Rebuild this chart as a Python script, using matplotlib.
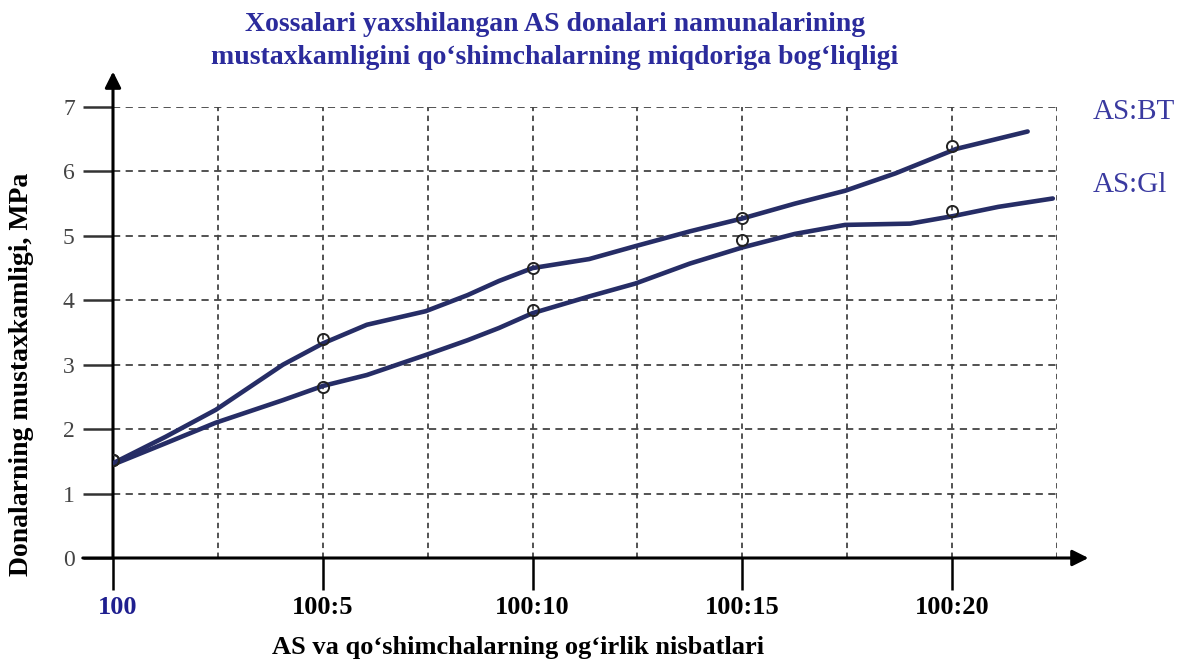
import matplotlib
matplotlib.use("Agg")
import matplotlib.pyplot as plt
import matplotlib.transforms as mtransforms
from matplotlib.ticker import MultipleLocator, FixedLocator

# Weight ratio positions (share of additive per 100 parts AS) and their labels
ratio_pos = [0, 5, 10, 15, 20]
ratio_labels = ["100", "100:5", "100:10", "100:15", "100:20"]

# Measured strength, MPa
bt_strength = [1.52, 3.4, 4.5, 5.28, 6.4]
gl_strength = [1.52, 2.65, 3.85, 4.94, 5.38]

# Hand-drawn trend curves traced along each series
bt_curve_x = [0, 1.25, 2.45, 4.05, 5.0, 6.05, 7.45, 8.45, 9.2, 10.0, 11.35, 12.45,
              13.75, 15.0, 16.25, 17.45, 18.65, 20.1, 21.8]
bt_curve_y = [1.47, 1.88, 2.3, 3.0, 3.33, 3.62, 3.83, 4.08, 4.3, 4.5, 4.64, 4.84,
              5.07, 5.27, 5.5, 5.7, 5.97, 6.35, 6.62]
gl_curve_x = [0, 1.25, 2.45, 4.05, 5.0, 6.05, 7.45, 8.45, 9.2, 10.0, 11.35, 12.45,
              13.75, 15.0, 16.25, 17.45, 19.0, 20.05, 21.1, 22.4]
gl_curve_y = [1.45, 1.78, 2.1, 2.45, 2.67, 2.84, 3.15, 3.38, 3.57, 3.8, 4.06, 4.26,
              4.57, 4.82, 5.03, 5.17, 5.19, 5.31, 5.45, 5.58]

series_names = ["AS:BT", "AS:Gl"]

line_color = "#262d66"
title_color = "#2b2b9c"
serif = ["Liberation Serif", "DejaVu Serif"]

fig = plt.figure(figsize=(11.8, 6.61), dpi=100)
ax = fig.add_axes([113 / 1180, 103 / 661, 944 / 1180, 451 / 661])
ax.set_xlim(0, 22.5)
ax.set_ylim(0, 7)
for s in ax.spines.values():
    s.set_visible(False)

# Dashed grid: every 2.5 along x, every unit along y
ax.xaxis.set_major_locator(FixedLocator(ratio_pos))
ax.xaxis.set_minor_locator(FixedLocator([2.5, 7.5, 12.5, 17.5, 22.5]))
ax.yaxis.set_major_locator(MultipleLocator(1))
ax.grid(which="major", axis="y", color="#444444", linestyle=(0, (4, 3)), linewidth=1.3)
ax.grid(which="both", axis="x", color="#444444", linestyle=(0, (3, 2.5)), linewidth=1.3)

# The pure-AS label sits a little lower and is drawn in blue
ax.set_xticks(ratio_pos)
ax.set_xticklabels([""] + ratio_labels[1:], fontfamily=serif, fontweight="bold", fontsize=19)
shift = ax.get_xaxis_transform() + mtransforms.ScaledTranslation(5 / 100, -38 / 100,
                                                                  fig.dpi_scale_trans)
ax.text(ratio_pos[0], 0, ratio_labels[0], transform=shift, fontfamily=serif,
        fontweight="bold", fontsize=19, color="#1f1f8f", ha="center", va="top")
ax.tick_params(axis="x", which="major", length=23, width=1.8, color="black", pad=4)
ax.tick_params(axis="x", which="minor", length=0)
ax.tick_params(axis="y", length=21.5, width=1.8, color="#333333", pad=6,
               labelsize=17, labelcolor="#444444")
for lbl in ax.get_yticklabels():
    lbl.set_fontfamily(serif)

# Axes drawn as arrows
arrow = dict(arrowstyle="-|>", lw=2.2, color="black", mutation_scale=24, shrinkA=0, shrinkB=0)
ax.annotate("", xy=(23.25, 0), xytext=(-0.72, 0), arrowprops=arrow, annotation_clip=False)
ax.annotate("", xy=(0, 7.55), xytext=(0, 0), arrowprops=arrow, annotation_clip=False)

# Curves and measured points
ax.plot(bt_curve_x, bt_curve_y, color=line_color, lw=3.3, solid_capstyle="round",
        solid_joinstyle="round", zorder=3)
ax.plot(gl_curve_x, gl_curve_y, color=line_color, lw=3.3, solid_capstyle="round",
        solid_joinstyle="round", zorder=3)
ax.plot(ratio_pos, bt_strength, "o", ms=8, mfc="none", mec="#222222", mew=1.4, zorder=4)
ax.plot(ratio_pos, gl_strength, "o", ms=8, mfc="none", mec="#222222", mew=1.4, zorder=4)

fig.text(1093 / 1180, 1 - 112 / 661, series_names[0], fontfamily=serif, fontsize=21,
         color="#3a3aa0", ha="left", va="center")
fig.text(1093 / 1180, 1 - 185 / 661, series_names[1], fontfamily=serif, fontsize=21,
         color="#3a3aa0", ha="left", va="center")

fig.text(555 / 1180, 1 - 41 / 661,
         "Xossalari yaxshilangan AS donalari namunalarining\n"
         "mustaxkamligini qo\u2018shimchalarning miqdoriga bog\u2018liqligi",
         fontfamily=serif, fontweight="bold", fontsize=20, color=title_color,
         ha="center", va="center", linespacing=1.45)
fig.text(22 / 1180, 1 - 374 / 661, "Donalarning mustaxkamligi, MPa", rotation=90,
         fontfamily=serif, fontweight="bold", fontsize=20, ha="center", va="center")
fig.text(518 / 1180, 1 - 654 / 661, "AS va qo\u2018shimchalarning og\u2018irlik nisbatlari",
         fontfamily=serif, fontweight="bold", fontsize=19, ha="center", va="baseline")

fig.savefig("out.png", dpi=100)
